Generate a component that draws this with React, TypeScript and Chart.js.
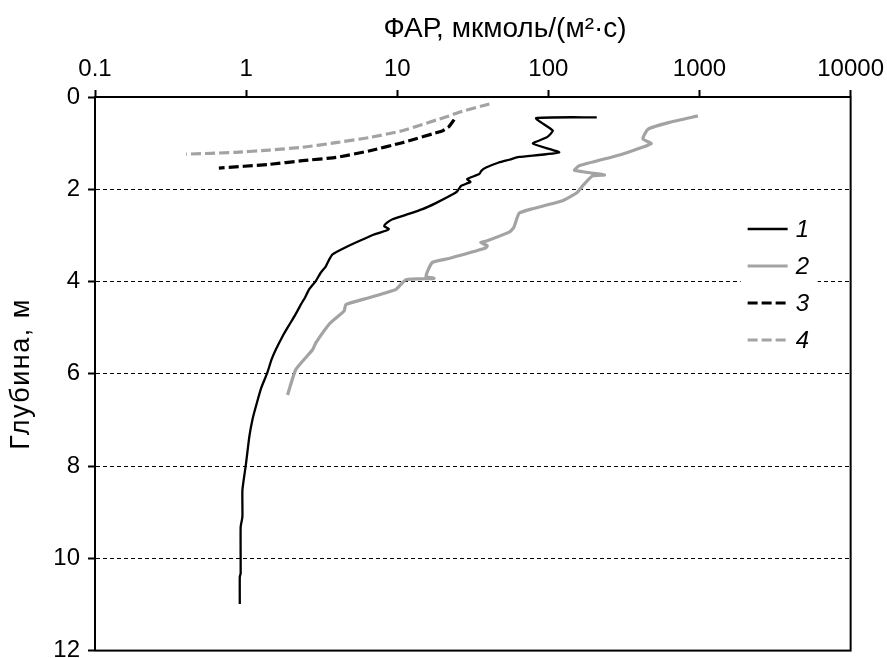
import { useEffect, useRef } from "react";
import { Chart, registerables } from "chart.js";

Chart.register(...registerables);

// Profile 1: PAR (µmol/(m²·s)) against depth (m)
const par1 = [209, 83, 107, 98, 79, 118, 64, 55, 47, 38.7, 36, 34.9, 29, 30.5, 26.4, 25, 23.3, 18, 14.7, 11.5, 9.3, 8.6, 8.2, 8.8, 8.4, 7, 5.9, 4.6, 3.73, 3.55, 3.37, 3.1, 2.89, 2.61, 2.45, 2.3, 2.15, 2.02, 1.88, 1.74, 1.57, 1.47, 1.38, 1.26, 1.16, 1.1, 1.05, 0.995, 0.945, 0.945, 0.92, 0.92, 0.908, 0.908];
const depth1 = [0.44, 0.46, 0.73, 0.87, 1.01, 1.2, 1.3, 1.36, 1.42, 1.53, 1.6, 1.67, 1.78, 1.84, 1.93, 2.04, 2.11, 2.3, 2.43, 2.55, 2.65, 2.72, 2.8, 2.86, 2.9, 2.98, 3.09, 3.25, 3.41, 3.52, 3.67, 3.82, 3.99, 4.17, 4.35, 4.5, 4.68, 4.83, 5.0, 5.19, 5.48, 5.7, 5.98, 6.3, 6.71, 7.0, 7.36, 7.98, 8.52, 9.1, 9.32, 10.33, 10.4, 10.99];

// Profile 2
const par2 = [975, 631, 455, 422, 479, 300, 160, 149, 235, 196, 168, 155, 124, 77, 64, 59, 55, 39, 35.6, 39.5, 38, 22, 17, 15.5, 17.5, 11.4, 9.8, 6.5, 4.57, 4.45, 3.6, 2.89, 2.75, 2.13, 1.88];
const depth2 = [0.41, 0.55, 0.7, 0.91, 1.01, 1.25, 1.49, 1.59, 1.69, 1.71, 1.93, 2.07, 2.25, 2.43, 2.52, 2.83, 2.93, 3.12, 3.15, 3.23, 3.28, 3.5, 3.59, 3.89, 3.93, 3.96, 4.17, 4.35, 4.5, 4.64, 4.9, 5.33, 5.48, 5.91, 6.46];

// Profile 3
const par3 = [23.8, 22, 20, 10.8, 6.5, 3.93, 2.36, 1.42, 0.66];
const depth3 = [0.49, 0.64, 0.73, 0.99, 1.17, 1.31, 1.38, 1.46, 1.54];

// Profile 4
const par4 = [40.7, 25.7, 22, 10.8, 6.5, 3.93, 2.36, 1.42, 0.85, 0.4];
const depth4 = [0.15, 0.33, 0.41, 0.73, 0.88, 0.99, 1.09, 1.15, 1.2, 1.24];

const seriesLabels = ["1", "2", "3", "4"];
const xTicks = [0.1, 1, 10, 100, 1000, 10000];
const yTicks = [0, 2, 4, 6, 8, 10, 12];
const xTitle = "ФАР, мкмоль/(м²·с)";
const yTitle = "Глубина, м";

const FONT = "'Liberation Sans', Arial, sans-serif";
const BLACK = "#000000";
const GREY = "#a3a3a3";

const styles = [
  { color: BLACK, width: 2.3, dash: [] as number[] },
  { color: GREY, width: 3.2, dash: [] as number[] },
  { color: BLACK, width: 3.2, dash: [10, 4] },
  { color: GREY, width: 3.2, dash: [10, 4] },
];

const toPoints = (xs: number[], ys: number[]) => xs.map((x, i) => ({ x, y: ys[i] }));

const decor = {
  id: "decor",
  afterDraw(chart: any) {
    const { ctx, chartArea: a } = chart;
    ctx.save();
    // frame around the plot
    ctx.strokeStyle = BLACK;
    ctx.lineWidth = 2;
    ctx.setLineDash([]);
    ctx.strokeRect(a.left, a.top, a.right - a.left, a.bottom - a.top);

    // axis titles
    ctx.fillStyle = BLACK;
    ctx.textAlign = "center";
    ctx.textBaseline = "middle";
    ctx.font = `28px ${FONT}`;
    ctx.fillText(xTitle, a.left + 410, 29);
    ctx.save();
    ctx.translate(22, a.top + 277);
    ctx.rotate(-Math.PI / 2);
    ctx.font = `27px ${FONT}`;
    (ctx as any).letterSpacing = "1.5px";
    ctx.fillText(yTitle, 0, 0);
    ctx.restore();

    // legend
    const lx0 = a.right - 103;
    const lx1 = a.right - 63;
    ctx.fillStyle = "#ffffff";
    ctx.fillRect(a.right - 110, a.top + 112, 77, 150);
    ctx.font = `italic 24px ${FONT}`;
    ctx.textAlign = "left";
    seriesLabels.forEach((lab, i) => {
      const y = a.top + 132 + i * 37;
      const s = styles[i];
      ctx.strokeStyle = s.color;
      ctx.lineWidth = s.width;
      ctx.setLineDash(s.dash);
      ctx.beginPath();
      ctx.moveTo(lx0, y);
      ctx.lineTo(lx1, y);
      ctx.stroke();
      ctx.setLineDash([]);
      ctx.fillStyle = BLACK;
      ctx.fillText(lab, a.right - 55, y + 1);
    });
    ctx.restore();
  },
};

export default function App() {
  const ref = useRef<HTMLCanvasElement | null>(null);

  useEffect(() => {
    if (!ref.current) return;
    const series = [
      toPoints(par1, depth1),
      toPoints(par2, depth2),
      toPoints(par3, depth3),
      toPoints(par4, depth4),
    ];
    const chart = new Chart(ref.current, {
      type: "scatter",
      data: {
        datasets: series.map((data, i) => ({
          label: seriesLabels[i],
          data,
          showLine: true,
          borderColor: styles[i].color,
          backgroundColor: styles[i].color,
          borderWidth: styles[i].width,
          borderDash: styles[i].dash,
          pointRadius: 0,
          tension: 0.15,
        })),
      },
      options: {
        animation: false,
        responsive: false,
        devicePixelRatio: 1,
        layout: { padding: { left: 0, top: 0, right: 0, bottom: 0 } },
        plugins: { legend: { display: false }, tooltip: { enabled: false } },
        scales: {
          x: {
            type: "logarithmic",
            position: "top",
            min: 0.1,
            max: 10000,
            afterBuildTicks: (s: any) => {
              s.ticks = xTicks.map((value) => ({ value }));
            },
            afterFit: (s: any) => {
              s.height = 97;
            },
            ticks: {
              color: BLACK,
              font: { family: FONT, size: 24 },
              padding: 6,
              maxRotation: 0,
              autoSkip: false,
              callback: (v: any) => String(v),
            },
            grid: {
              drawOnChartArea: false,
              drawTicks: true,
              tickLength: 7,
              tickColor: BLACK,
              tickWidth: 2,
            },
            border: { display: true, color: BLACK, width: 2 },
          },
          y: {
            type: "linear",
            reverse: true,
            min: 0,
            max: 12,
            afterBuildTicks: (s: any) => {
              s.ticks = yTicks.map((value) => ({ value }));
            },
            afterFit: (s: any) => {
              s.width = 95;
            },
            ticks: {
              color: BLACK,
              font: { family: FONT, size: 24 },
              padding: 8,
              autoSkip: false,
            },
            grid: {
              drawOnChartArea: true,
              color: BLACK,
              lineWidth: 1,
              tickLength: 7,
              tickColor: BLACK,
              tickWidth: 2,
            },
            border: { display: true, color: BLACK, width: 2, dash: [4, 3] },
          },
        },
      },
      plugins: [decor],
    });
    return () => chart.destroy();
  }, []);

  return (
    <div style={{ position: "fixed", left: 0, top: 0, width: 890, height: 673, background: "#fff" }}>
      <canvas ref={ref} width={890} height={673} style={{ display: "block" }} />
    </div>
  );
}
